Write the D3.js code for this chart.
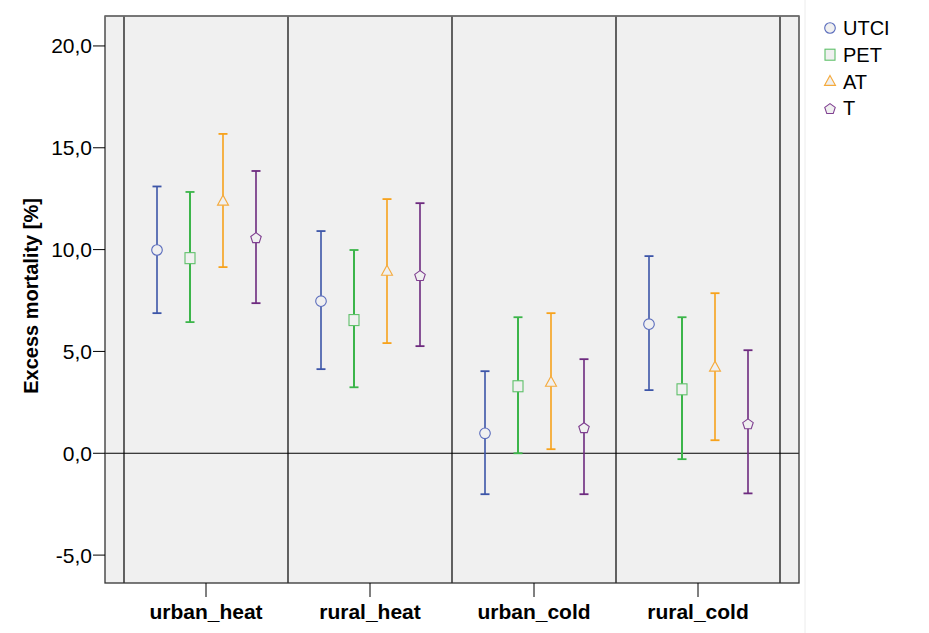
<!DOCTYPE html>
<html><head><meta charset="utf-8">
<script src="https://cdn.jsdelivr.net/npm/d3@7/dist/d3.min.js"></script>
<style>body{margin:0;background:#fff}svg{display:block}text{font-family:Arial,"Liberation Sans",sans-serif}</style>
</head><body><svg id="c" width="929" height="633"></svg>
<script>
const categories = ["urban_heat","rural_heat","urban_cold","rural_cold"];
const seriesNames = ["UTCI","PET","AT","T"];
const means = {
  UTCI:[9.98,7.47,0.98,6.34],
  PET:[9.58,6.54,3.29,3.14],
  AT:[12.38,8.94,3.49,4.23],
  T:[10.61,8.75,1.28,1.47]
};
const lows = {
  UTCI:[6.88,4.13,-2.01,3.10],
  PET:[6.44,3.24,0.0,-0.29],
  AT:[9.14,5.41,0.2,0.64],
  T:[7.37,5.26,-2.01,-1.97]
};
const highs = {
  UTCI:[13.1,10.91,4.03,9.68],
  PET:[12.83,9.98,6.68,6.68],
  AT:[15.68,12.48,6.88,7.86],
  T:[13.86,12.28,4.62,5.06]
};
const yTicks = [-5,0,5,10,15,20];
const colors = {UTCI:"#3c55a8",PET:"#3cb54a",AT:"#f7a21c",T:"#6d2a7f"};
const markerColors = {UTCI:"#5a6cbc",PET:"#5fc06a",AT:"#f5aa3c",T:"#7f3f90"};

const svg = d3.select("#c");
const L=105,R=799,T=16,B=583;
const y = d3.scaleLinear().domain([-6.37,21.47]).range([B,T]);
const x = d3.scaleBand().domain(categories).range([124,780]).padding(0);
const xs = d3.scalePoint().domain(seriesNames).range([-49,50]);

svg.append("line").attr("x1",805).attr("x2",805).attr("y1",0).attr("y2",633).attr("stroke","#ececec");
svg.append("rect").attr("x",L).attr("y",T).attr("width",R-L).attr("height",B-T).attr("fill","#f0f0f0");

// vertical separators
const seps = [124].concat(categories.map(c=>x(c)+x.bandwidth()));
svg.selectAll(".sep").data(seps).enter().append("line")
  .attr("x1",d=>d).attr("x2",d=>d).attr("y1",T).attr("y2",B).attr("stroke","#000").attr("stroke-width",1.2);
// zero line
svg.append("line").attr("x1",L).attr("x2",R).attr("y1",y(0)).attr("y2",y(0)).attr("stroke","#000").attr("stroke-width",1.2);

svg.append("rect").attr("x",L).attr("y",T).attr("width",R-L).attr("height",B-T).attr("fill","none").attr("stroke","#333").attr("stroke-width",1.3);
svg.append("line").attr("x1",L).attr("x2",R).attr("y1",T).attr("y2",T).attr("stroke","#777").attr("stroke-width",1.5);

// y axis
const ya = svg.append("g");
yTicks.forEach(t=>{
  ya.append("line").attr("x1",93).attr("x2",L).attr("y1",y(t)).attr("y2",y(t)).attr("stroke","#000");
  ya.append("text").attr("x",92).attr("y",y(t)).attr("dy","0.36em").attr("text-anchor","end")
    .attr("font-size",21).text(t.toFixed(1).replace(".",","));
});
svg.append("text").attr("transform","translate(38,296) rotate(-90)").attr("text-anchor","middle")
  .attr("font-size",20).attr("font-weight","bold").text("Excess mortality [%]");

// x axis
categories.forEach(c=>{
  const cx = x(c)+x.bandwidth()/2;
  svg.append("line").attr("x1",cx).attr("x2",cx).attr("y1",B).attr("y2",597).attr("stroke","#000");
  svg.append("text").attr("x",cx).attr("y",619).attr("text-anchor","middle").attr("font-size",21)
    .attr("font-weight","bold").text(c);
});

function marker(g,s,cx,cy){
  const col = markerColors[s];
  if(s==="UTCI") g.append("circle").attr("cx",cx).attr("cy",cy).attr("r",5.3).attr("fill","#f0f0f0").attr("stroke",col).attr("stroke-width",1.1);
  else if(s==="PET") g.append("rect").attr("x",cx-5).attr("y",cy-5.5).attr("width",10).attr("height",11).attr("fill","#f0f0f0").attr("stroke",col).attr("stroke-width",1.1);
  else if(s==="AT") g.append("path").attr("d",`M${cx},${cy-6}L${cx+5.5},${cy+4}L${cx-5.5},${cy+4}Z`).attr("fill","#f0f0f0").attr("stroke",col).attr("stroke-width",1.1);
  else {
    const pts = d3.range(5).map(i=>{const a=-Math.PI/2+i*2*Math.PI/5;return [cx+5.5*Math.cos(a),cy+1+5.5*Math.sin(a)];});
    g.append("path").attr("d","M"+pts.map(p=>p.join(",")).join("L")+"Z").attr("fill","#f0f0f0").attr("stroke",col).attr("stroke-width",1.1);
  }
}

const g = svg.append("g");
seriesNames.forEach(s=>{
  categories.forEach((c,i)=>{
    const cx = x(c)+x.bandwidth()/2 + xs(s);
    const col = colors[s];
    const w = (s==="PET")?2:1.6;
    g.append("line").attr("x1",cx).attr("x2",cx).attr("y1",y(lows[s][i])).attr("y2",y(highs[s][i])).attr("stroke",col).attr("stroke-width",w);
    [lows[s][i],highs[s][i]].forEach(v=>{
      g.append("line").attr("x1",cx-4.5).attr("x2",cx+4.5).attr("y1",y(v)).attr("y2",y(v)).attr("stroke",col).attr("stroke-width",1.8);
    });
    marker(g,s,cx,y(means[s][i]));
  });
});

// legend
const lg = svg.append("g");
seriesNames.forEach((s,i)=>{
  const ly = 28 + i*26.7;
  marker(lg,s,830,ly);
  lg.append("text").attr("x",843).attr("y",ly).attr("dy","0.36em").attr("font-size",20).text(s);
});
</script></body></html>
